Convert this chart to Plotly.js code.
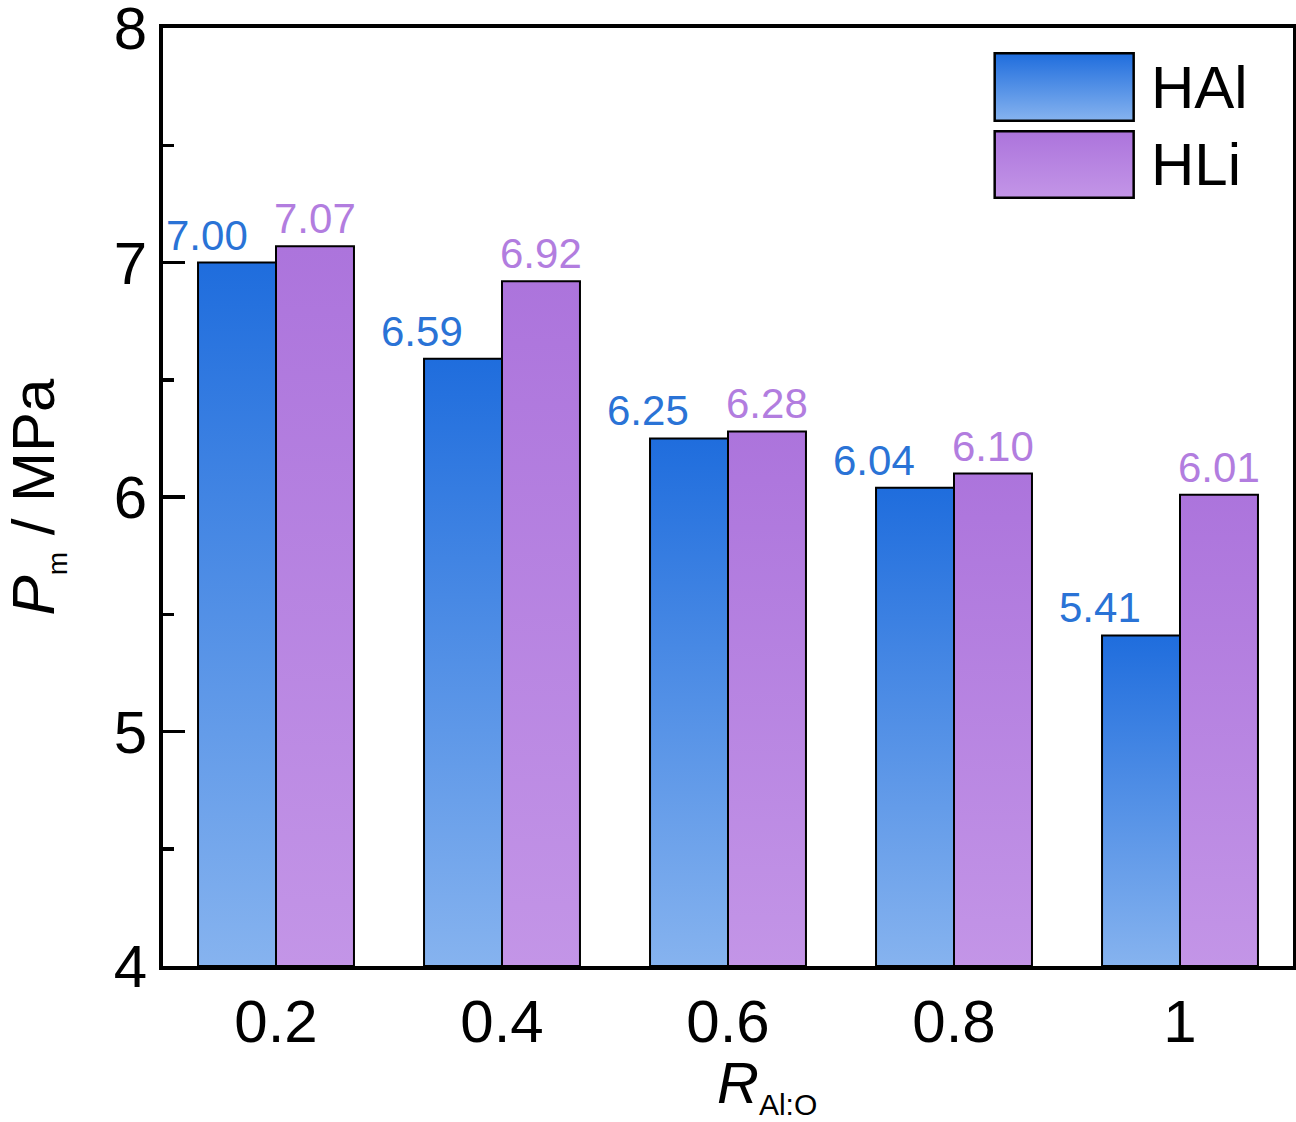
<!DOCTYPE html>
<html>
<head>
<meta charset="utf-8">
<script src="https://cdn.plot.ly/plotly-3.0.1.min.js"></script>
<style>
  body { margin: 0; background: #fff; }
  #chart { width: 1296px; height: 1122px; }
</style>
</head>
<body>
<div id="chart"></div>
<script>
"use strict";
// values
var ratios = ['0.2', '0.4', '0.6', '0.8', '1'];
var hal = [7.00, 6.59, 6.25, 6.04, 5.41];
var hli = [7.07, 6.92, 6.28, 6.10, 6.01];
var seriesNames = ['HAl', 'HLi'];
var yTicks = [4, 5, 6, 7, 8];

var FONT = '"Liberation Sans Narrow", "Arial Narrow", "Liberation Sans", Arial, sans-serif';
var blueTop = '#1f6ddd', blueBottom = '#86b3ef';
var purpTop = '#ac74dc', purpBottom = '#c395e7';
var blueText = '#2a73d6', purpText = '#b27ddf';
var yBase = 4;

var traces = [
    {
        type: 'bar', name: seriesNames[0], x: ratios, y: hal.map(function (v) { return v - yBase; }),
        base: yBase,
        marker: {color: blueTop, line: {color: '#000', width: 2}},
        hoverinfo: 'none'
    },
    {
        type: 'bar', name: seriesNames[1], x: ratios, y: hli.map(function (v) { return v - yBase; }),
        base: yBase,
        marker: {color: purpTop, line: {color: '#000', width: 2}},
        hoverinfo: 'none'
    }
];

// value labels: HAl ones sit over the bar's left edge, HLi ones centred on the bar
var labels = [];
for (var i = 0; i < ratios.length; i++) {
    labels.push({
        x: i, y: hal[i], xref: 'x', yref: 'y',
        text: hal[i].toFixed(2), showarrow: false,
        xanchor: 'center', yanchor: 'bottom', xshift: i === 0 ? -69 : -80, yshift: 2,
        font: {family: FONT, size: 42, color: blueText}
    });
    labels.push({
        x: i, y: hli[i], xref: 'x', yref: 'y',
        text: hli[i].toFixed(2), showarrow: false,
        xanchor: 'center', yanchor: 'bottom', xshift: 39, yshift: 2,
        font: {family: FONT, size: 42, color: purpText}
    });
}
// legend text
labels.push({x: 0.873, y: 0.937, xref: 'paper', yref: 'paper', text: seriesNames[0],
    showarrow: false, xanchor: 'left', yanchor: 'middle', font: {family: FONT, size: 60, color: '#000'}});
labels.push({x: 0.873, y: 0.854, xref: 'paper', yref: 'paper', text: seriesNames[1],
    showarrow: false, xanchor: 'left', yanchor: 'middle', font: {family: FONT, size: 60, color: '#000'}});
// x axis title, placed so the R sits centred under the plot like the original
labels.push({x: 0.4885, y: -0.087, xref: 'paper', yref: 'paper',
    text: '<i>R</i><sub><span style="font-size:30px">Al:O</span></sub>',
    showarrow: false, xanchor: 'left', yanchor: 'top', font: {family: FONT, size: 58, color: '#000'}});

var legendBoxes = [
    {type: 'rect', xref: 'paper', yref: 'paper', x0: 0.736, x1: 0.859, y0: 0.901, y1: 0.973,
        fillcolor: blueTop, line: {color: '#000', width: 2.5}},
    {type: 'rect', xref: 'paper', yref: 'paper', x0: 0.736, x1: 0.859, y0: 0.819, y1: 0.890,
        fillcolor: purpTop, line: {color: '#000', width: 2.5}}
];

var layout = {
    width: 1296, height: 1122,
    margin: {l: 163, r: 3, t: 28, b: 156},
    paper_bgcolor: '#fff', plot_bgcolor: '#fff',
    font: {family: FONT, color: '#000'},
    showlegend: false,
    barmode: 'group', bargap: 0.31, bargroupgap: 0,
    xaxis: {
        type: 'category', range: [-0.5, 4.5],
        showline: true, linecolor: '#000', linewidth: 4, mirror: true,
        ticks: '', showgrid: false, zeroline: false,
        tickfont: {family: FONT, size: 60}
    },
    yaxis: {
        range: [4, 8.0005], tickvals: yTicks, ticklabeloverflow: 'allow',
        showline: true, linecolor: '#000', linewidth: 4, mirror: true,
        ticks: 'inside', ticklen: 22, tickwidth: 3.5, tickcolor: '#000',
        minor: {dtick: 0.5, ticks: 'inside', ticklen: 11, tickwidth: 3.5, tickcolor: '#000'},
        showgrid: false, zeroline: false,
        tickfont: {family: FONT, size: 60},
        title: {text: '<i>P</i><sub><span style="font-size:28px">m</span></sub> / MPa',
            font: {family: FONT, size: 60}, standoff: 52}
    },
    shapes: legendBoxes,
    annotations: labels
};

// Plotly has no gradient fill for bars, so swap the flat fill for an svg gradient afterwards
function addGradient(defs, id, top, bottom) {
    var ns = 'http://www.w3.org/2000/svg';
    var g = document.createElementNS(ns, 'linearGradient');
    g.setAttribute('id', id);
    g.setAttribute('x1', '0'); g.setAttribute('y1', '0');
    g.setAttribute('x2', '0'); g.setAttribute('y2', '1');
    [[0, top], [1, bottom]].forEach(function (s) {
        var stop = document.createElementNS(ns, 'stop');
        stop.setAttribute('offset', s[0]);
        stop.setAttribute('stop-color', s[1]);
        g.appendChild(stop);
    });
    defs.appendChild(g);
}

function applyGradients(gd) {
    var svg = gd.querySelector('svg.main-svg');
    var defs = svg.querySelector('defs');
    addGradient(defs, 'gradBlue', blueTop, blueBottom);
    addGradient(defs, 'gradPurp', purpTop, purpBottom);
    var ids = ['url(#gradBlue)', 'url(#gradPurp)'];
    gd.querySelectorAll('.barlayer .trace').forEach(function (tr, k) {
        tr.querySelectorAll('path').forEach(function (p) { p.style.fill = ids[k]; });
    });
    gd.querySelectorAll('.shapelayer path').forEach(function (p, k) {
        if (k < 2) p.style.fill = ids[k];
    });
}

Plotly.newPlot('chart', traces, layout, {displayModeBar: false, staticPlot: true})
    .then(applyGradients);
</script>
</body>
</html>
